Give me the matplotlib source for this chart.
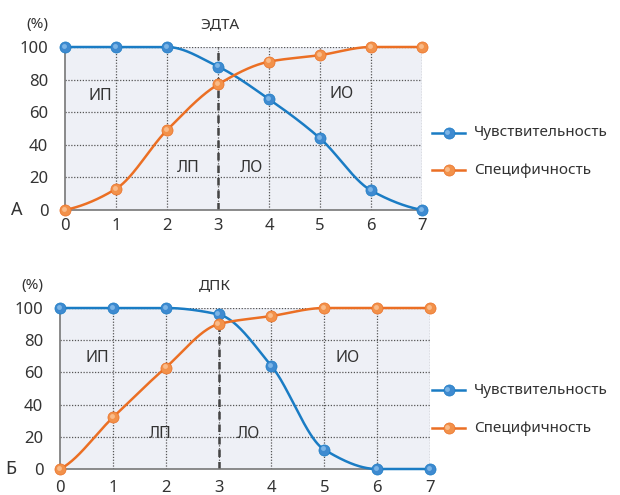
import numpy as np
import matplotlib
matplotlib.use("Agg")
import matplotlib.pyplot as plt

plt.rcParams['font.family'] = ['Noto Sans', 'DejaVu Sans']

x_vals = [0, 1, 2, 3, 4, 5, 6, 7]
sens_edta = [100, 100, 100, 88, 68, 44, 12, 0]
spec_edta = [0, 13, 49, 77, 91, 95, 100, 100]
sens_dpk = [100, 100, 100, 96, 64, 12, 0, 0]
spec_dpk = [0, 32, 63, 90, 95, 100, 100, 100]
y_ticks = [0, 20, 40, 60, 80, 100]
series_names = ["Чувствительность", "Специфичность"]
titles = ["ЭДТА", "ДПК"]
panel_letters = ["А", "Б"]
region_labels = ["ИП", "ЛП", "ЛО", "ИО"]

BLUE_LINE = "#1a7cc4"
ORANGE_LINE = "#eb6f24"
BLUE_MK = "#3e8ad0"
ORANGE_MK = "#f2914a"
BLUE_HI = "#8cc0ec"
ORANGE_HI = "#fbc69a"
BG = "#eef0f6"
TXT = "#333333"


def pchip(x, y, xs):
    x = np.asarray(x, float); y = np.asarray(y, float)
    h = np.diff(x); d = np.diff(y) / h
    n = len(x); m = np.zeros(n)
    for k in range(1, n - 1):
        if d[k - 1] * d[k] <= 0:
            m[k] = 0
        else:
            w1 = 2 * h[k] + h[k - 1]; w2 = h[k] + 2 * h[k - 1]
            m[k] = (w1 + w2) / (w1 / d[k - 1] + w2 / d[k])
    m[0] = d[0] * 0.5
    m[-1] = d[-1] * 0.5
    idx = np.clip(np.searchsorted(x, xs) - 1, 0, n - 2)
    t = (xs - x[idx]) / h[idx]
    h00 = 2 * t**3 - 3 * t**2 + 1; h10 = t**3 - 2 * t**2 + t
    h01 = -2 * t**3 + 3 * t**2; h11 = t**3 - t**2
    return h00 * y[idx] + h10 * h[idx] * m[idx] + h01 * y[idx + 1] + h11 * h[idx] * m[idx + 1]


fig = plt.figure(figsize=(6.2, 4.95), dpi=100)

panels = [
    dict(rect=[65 / 620, 1 - 210 / 495, 357 / 620, 163 / 495], sens=sens_edta, spec=spec_edta,
         regions=[(0.69, 70), (2.41, 26), (3.65, 26), (5.43, 71)], legend_y=(133, 170),
         letter_x=17),
    dict(rect=[60 / 620, 1 - 469 / 495, 370 / 620, 161 / 495], sens=sens_dpk, spec=spec_dpk,
         regions=[(0.70, 69), (1.89, 22), (3.56, 22), (5.45, 69)], legend_y=(390, 428),
         letter_x=11),
]


def sphere(ax_or_fig, xv, yv, lc, mc, hc, ms, **kw):
    ax_or_fig.plot(xv, yv, ls="none", marker="o", ms=ms, mfc=mc, mec=lc, mew=0.5, **kw)


xs = np.linspace(0, 7, 400)
for i, p in enumerate(panels):
    ax = fig.add_axes(p["rect"])
    ax.set_facecolor(BG)
    ax.set_xlim(0, 7)
    ax.set_ylim(0, 100)
    for s in ["top", "right"]:
        ax.spines[s].set_visible(False)
    for s in ["left", "bottom"]:
        ax.spines[s].set_color("#777777")
        ax.spines[s].set_linewidth(1.2)
    for xv in x_vals[1:]:
        ax.axvline(xv, color="#555555", lw=0.9, ls=(0, (1, 1.3)), zorder=1)
    for yv in y_ticks[1:]:
        ax.axhline(yv, color="#555555", lw=0.9, ls=(0, (1, 1.3)), zorder=1)
    ax.vlines(3, 0, 100, color="#444444", lw=1.8, ls=(0, (3, 2)), zorder=2)
    ax.set_xticks(x_vals)
    ax.set_yticks(y_ticks)
    ax.tick_params(length=0, labelsize=12, colors=TXT)
    ax.tick_params(axis='x', pad=8 if i == 1 else 6)
    ax.tick_params(axis='y', pad=12)

    for vals, lc, mc, hc in [(p["sens"], BLUE_LINE, BLUE_MK, BLUE_HI),
                             (p["spec"], ORANGE_LINE, ORANGE_MK, ORANGE_HI)]:
        ax.plot(xs, pchip(x_vals, vals, xs), color=lc, lw=1.8, zorder=3, clip_on=False)
        ax.plot(x_vals, vals, ls="none", marker="o", ms=8, mfc=mc, mec=lc, mew=0.5,
                zorder=4, clip_on=False)
        ax.plot(x_vals, vals, ls="none", marker="o", ms=3.5, mfc=hc, mec="none",
                alpha=0.8, zorder=5, clip_on=False,
                transform=ax.transData + matplotlib.transforms.ScaledTranslation(-1.2 / 100, 1.2 / 100, fig.dpi_scale_trans))

    for lab, (rx, ry) in zip(region_labels, p["regions"]):
        ax.text(rx, ry, lab, ha="center", va="center", fontsize=11.5, color=TXT, zorder=6)

    pos = ax.get_position()
    fig.text(pos.x0 - 0.045, pos.y1 + 0.045, "(%)",
             ha="center", va="center", fontsize=11, color=TXT)
    fig.text(pos.x0 + 155 / 620, pos.y1 + 0.045, titles[i],
             ha="center", va="center", fontsize=11, color=TXT)
    fig.text(p["letter_x"] / 620, pos.y0, panel_letters[i],
             ha="center", va="center", fontsize=13, color=TXT)

    # legend
    for ly, name, lc, mc, hc in zip(p["legend_y"], series_names, [BLUE_LINE, ORANGE_LINE],
                                    [BLUE_MK, ORANGE_MK], [BLUE_HI, ORANGE_HI]):
        fy = 1 - ly / 495
        fig.add_artist(plt.Line2D([432 / 620, 465 / 620], [fy, fy], color=lc, lw=1.8,
                                  transform=fig.transFigure))
        fig.add_artist(plt.Line2D([448.5 / 620], [fy], marker="o", ms=8, mfc=mc, mec=lc, mew=0.5,
                                  transform=fig.transFigure))
        fig.add_artist(plt.Line2D([447.3 / 620], [fy + 1.2 / 495], marker="o", ms=3.5, mfc=hc,
                                  mec="none", alpha=0.8, transform=fig.transFigure))
        fig.text(474 / 620, fy, name, ha="left", va="center", fontsize=11, color=TXT)

fig.savefig("out.png", dpi=100, facecolor="white")
